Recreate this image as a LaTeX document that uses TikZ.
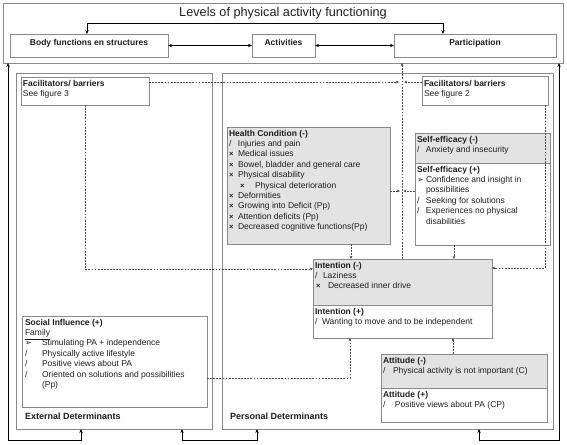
\documentclass[tikz,border=0pt]{standalone}
\usepackage{fontspec}
\setmainfont{Liberation Sans}
\newfontfamily\djv{DejaVu Sans}
\usetikzlibrary{arrows.meta,fit,calc}
\definecolor{bord}{HTML}{8A8A8A}
\definecolor{shade}{HTML}{E3E3E3}
\definecolor{ink}{HTML}{1E1E1E}
\definecolor{dashc}{HTML}{4A4A4A}
\newcommand\bx[2][9pt]{\makebox[#1][l]{#2}}
\newcommand\chk{/}
\newcommand\crs{{\fontsize{7.5}{7}\selectfont\bfseries ×}}
\newcommand\arr{{\djv\fontsize{8}{7}\selectfont ➢}}
\begin{document}
\begin{tikzpicture}[x=1pt,y=1pt,
  >={Stealth[length=4pt,width=3.4pt]},
  frame/.style={draw=bord, line width=0.8pt, inner sep=0pt, outer sep=0pt},
  greybox/.style={frame, fill=shade},
  txt/.style={inner sep=0pt, outer sep=0pt, anchor=north west, align=left, font=\fontsize{8.5}{10.4}\selectfont, text=ink},
  hd/.style={inner sep=0pt, outer sep=0pt, font=\fontsize{8.5}{10.4}\selectfont\bfseries, text=ink},
  sl/.style={draw=black, line width=0.9pt},
  dl/.style={draw=dashc, line width=0.75pt, dash pattern=on 1.8pt off 1.3pt, -{Stealth[length=3.2pt,width=2.8pt]}}
]
\useasboundingbox (0,0) rectangle (567,-444);

% top level box
\node[frame, fit={(3,-3)(563,-63)}] (top) {};
\node[font=\fontsize{12.7}{14}\selectfont, text=ink] (title) at (283,-13) {Levels of physical activity functioning};
\node[frame, fit={(10,-34)(168,-57)}] (body) {};
\node[hd, anchor=north] (bodyt) at ([yshift=-5pt]body.north) {Body functions en structures};
\node[frame, fit={(252,-34)(315,-57)}] (act) {};
\node[hd, anchor=north] (actt) at ([yshift=-5pt]act.north) {Activities};
\node[frame, fit={(394,-34)(556,-57)}] (part) {};
\node[hd, anchor=north] (partt) at ([yshift=-5pt]part.north) {Participation};

\draw[sl,<->] ([xshift=77pt]body.north west) -- ++(0,11) -| ([xshift=49pt]part.north west);
\draw[sl,<->] (body.east) -- (act.west);
\draw[sl,<->] (act.east) -- (part.west);

% determinant panels
\node[frame, fit={(16,-73)(212,-429)}] (ext) {};
\node[frame, fit={(222,-73)(553,-429)}] (pers) {};
\node[hd, anchor=north west, font=\fontsize{9}{11}\selectfont\bfseries] (extt) at (25,-413) {External Determinants};
\node[hd, anchor=north west, font=\fontsize{9}{11}\selectfont\bfseries] (perst) at (230,-413) {Personal Determinants};

% facilitators
\node[frame, fit={(21,-77)(149,-105)}] (facL) {};
\node[txt] (facLt) at (23,-80) {\textbf{Facilitators/ barriers}\\See figure 3};
\node[frame, fit={(422,-76)(548,-105)}] (facR) {};
\node[txt] (facRt) at (424,-80) {\textbf{Facilitators/ barriers}\\See figure 2};

% health condition
\node[greybox, fit={(227,-127)(390,-244)}] (hc) {};
\node[txt] (hct) at (229,-130) {\textbf{Health Condition (-)}\\
\bx{\chk}Injuries and pain\\
\bx{\crs}Medical issues\\
\bx{\crs}Bowel, bladder and general care\\
\bx{\crs}Physical disability\\
\hspace*{11pt}\bx[15pt]{\crs}Physical deterioration\\
\bx{\crs}Deformities\\
\bx{\crs}Growing into Deficit (Pp)\\
\bx{\crs}Attention deficits (Pp)\\
\bx{\crs}Decreased cognitive functions(Pp)};

% self-efficacy
\node[greybox, fit={(415,-133)(550,-163)}] (seN) {};
\node[frame, fit={(415,-163)(550,-245)}] (seP) {};
\node[txt] (seNt) at (417,-136) {\textbf{Self-efficacy (-)}\\\bx{\chk}Anxiety and insecurity};
\node[txt] (sePt) at (417,-166) {\textbf{Self-efficacy (+)}\\
\bx{\arr}Confidence and insight in\\
\bx{}possibilities\\
\bx{\chk}Seeking for solutions\\
\bx{\chk}Experiences no physical\\
\bx{}disabilities};

% intention
\node[greybox, fit={(313,-259)(492,-305)}] (inN) {};
\node[frame, fit={(313,-305)(492,-338)}] (inP) {};
\node[txt] (inNt) at (315,-262) {\textbf{Intention (-)}\\\bx[8pt]{\chk}Laziness\\\hspace*{1pt}\bx[12pt]{\crs}Decreased inner drive};
\node[txt] (inPt) at (315,-308) {\textbf{Intention (+)}\\\bx[7pt]{\chk}Wanting to move and to be independent};

% attitude
\node[greybox, fit={(381,-354)(547,-388)}] (atN) {};
\node[frame, fit={(381,-388)(547,-422)}] (atP) {};
\node[txt] (atNt) at (383,-357) {\textbf{Attitude (-)}\\\bx[10pt]{\chk}Physical activity is not important (C)};
\node[txt] (atPt) at (383,-391) {\textbf{Attitude (+)}\\\bx[12pt]{\chk}Positive views about PA (CP)};

% social influence
\node[frame, fit={(22,-316)(207,-407)}] (soc) {};
\node[txt] (soct) at (25,-319) {\textbf{Social Influence (+)}\\
\underline{Family}\\
\bx[17pt]{\arr}Stimulating PA + independence\\
\bx[17pt]{\chk}Physically active lifestyle\\
\bx[17pt]{\chk}Positive views about PA\\
\bx[17pt]{\chk}Oriented on solutions and possibilities\\
\bx[17pt]{}(Pp)};

% solid bottom connectors
\draw[sl,<->] ([xshift=65pt]ext.south west) -- ++(0,-11) -| ([xshift=5pt]top.south west);
\draw[sl,<->] ([xshift=166pt]ext.south west) -- ++(0,-11) -| ([xshift=35pt]pers.south west);
\draw[sl,<->] ([xshift=257pt]pers.south west) -- ++(0,-11) -| ([xshift=-4pt]top.south east);

% dashed connectors
\coordinate (vx) at (402,0);
\draw[dl] (inN.north -| vx) -- (top.south -| vx);
\coordinate (fa) at ([yshift=-5pt]facL.north east);
\draw[dl, shorten >=3pt] (fa) -- (fa -| vx);
\coordinate (fb) at ([yshift=-6pt]facR.north west);
\draw[dl, shorten >=2pt] (fb) -- (fb -| vx);
\coordinate (hq) at ([yshift=-5.5pt]hc.east);
\draw[dl, shorten >=2pt] (hq) -- (hq -| vx);
\coordinate (sq) at ([yshift=13pt]seP.west);
\draw[dl, shorten >=1.5pt] (sq) -- (sq -| vx);
\coordinate (fl) at ([yshift=-10pt]inN.north west);
\draw[dl] (facL.south) |- (fl);
\coordinate (fr) at ([yshift=-9pt]inN.north east);
\draw[dl] ([xshift=-3pt]facR.south east) |- (fr);
\coordinate (ha) at ([xshift=124pt]hc.south west);
\draw[dl] (ha) -- (ha |- inN.north);
\coordinate (sa) at ([xshift=39pt]seP.south west);
\draw[dl] (sa) -- (sa |- inN.north);
\coordinate (so) at ([yshift=-16.5pt]soc.east);
\coordinate (ib) at ([xshift=37pt]inP.south west);
\draw[dl] (so) -| (ib);
\coordinate (ab) at ([xshift=72pt]atN.north west);
\draw[dl] (ab) -- (ab |- inP.south);
\end{tikzpicture}
\end{document}
